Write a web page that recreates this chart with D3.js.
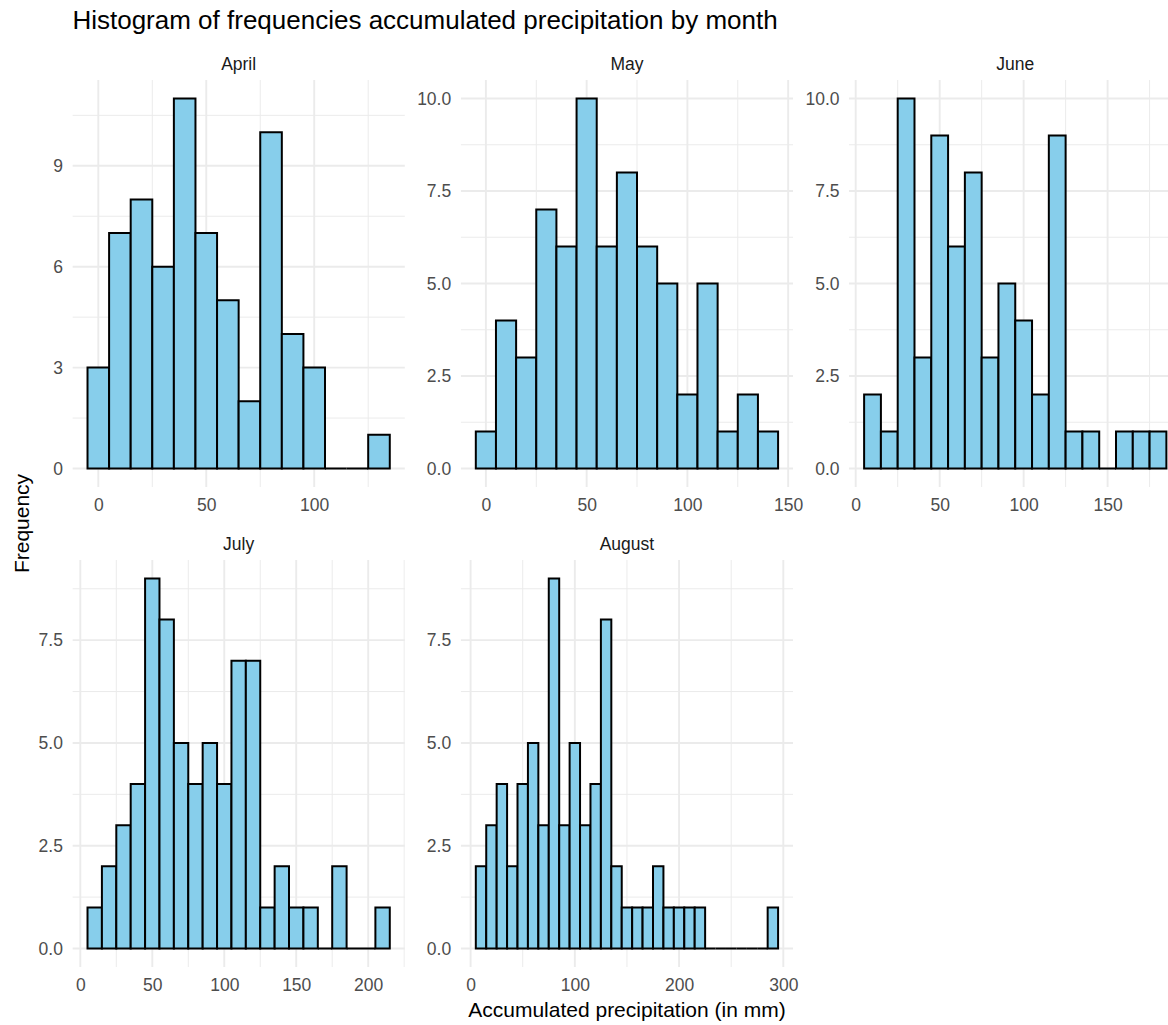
<!DOCTYPE html>
<html lang="en">

<head>
  <meta charset="utf-8">
  <title>Histogram of frequencies</title>
  <script src="https://d3js.org/d3.v7.min.js" charset="utf-8"></script>
  <style type="text/css">
    body {
      margin: 0;
      background: #fff;
    }

    svg {
      display: block;
      font-family: "Liberation Sans", Arial, sans-serif;
    }

    .grid-major {
      stroke: #ebebeb;
      stroke-width: 1.9;
    }

    .grid-minor {
      stroke: #ebebeb;
      stroke-width: 1;
    }

    .bar {
      fill: #87ceeb;
      stroke: #000;
      stroke-width: 2;
    }
  </style>
</head>

<body>
  <script type="text/javascript">
    // histogram counts, bin width 10, bins centred on multiples of 10
    var months = ["April", "May", "June", "July", "August"];
    var binWidth = 10;
    var firstBin = [0, 0, 10, 10, 10];

    var aprilCounts = [3, 7, 8, 6, 11, 7, 5, 2, 10, 4, 3, 0, 0, 1];
    var mayCounts = [1, 4, 3, 7, 6, 10, 6, 8, 6, 5, 2, 5, 1, 2, 1];
    var juneCounts = [2, 1, 10, 3, 9, 6, 8, 3, 5, 4, 2, 9, 1, 1, 0, 1, 1, 1];
    var julyCounts = [1, 2, 3, 4, 9, 8, 5, 4, 5, 4, 7, 7, 1, 2, 1, 1, 0, 2, 0, 0, 1];
    var augustCounts = [2, 3, 4, 2, 4, 5, 3, 9, 3, 5, 3, 4, 8, 2, 1, 1, 1, 2, 1, 1, 1, 1, 0, 0, 0, 0, 0, 0, 1];
    var counts = [aprilCounts, mayCounts, juneCounts, julyCounts, augustCounts];

    var xTicks = [
      [0, 50, 100],
      [0, 50, 100, 150],
      [0, 50, 100, 150],
      [0, 50, 100, 150, 200],
      [0, 100, 200, 300]
    ];
    var yTicks = [
      [0, 3, 6, 9],
      [0, 2.5, 5, 7.5, 10],
      [0, 2.5, 5, 7.5, 10],
      [0, 2.5, 5, 7.5],
      [0, 2.5, 5, 7.5]
    ];
    var yFormats = ["d", ".1f", ".1f", ".1f", ".1f"];

    var width = 1168,
      height = 1025,
      panelW = 332.5,
      panelH = 407,
      colStep = 388.3,
      left = 72.4,
      rowTops = [80, 560],
      tickFont = 17.5;

    var svg = d3.select("body")
      .append("svg")
      .attr("width", width)
      .attr("height", height);

    svg.append("rect")
      .attr("width", width)
      .attr("height", height)
      .attr("fill", "#fff");

    // ggplot-style minor breaks: midpoints between majors, extended one step
    function minorBreaks(major, domain) {
      var b = major.slice();
      var step = b[1] - b[0];
      if (domain[0] < b[0]) b.unshift(b[0] - step);
      if (domain[1] > b[b.length - 1]) b.push(b[b.length - 1] + step);
      var out = [];
      for (var i = 0; i < b.length - 1; i++) out.push((b[i] + b[i + 1]) / 2);
      return out.filter(function (v) {
        return v >= domain[0] && v <= domain[1];
      });
    }

    months.forEach(function (month, i) {
      var col = i % 3,
        row = Math.floor(i / 3);

      var data = counts[i].map(function (c, j) {
        var mid = firstBin[i] + j * binWidth;
        return {
          x0: mid - binWidth / 2,
          x1: mid + binWidth / 2,
          count: c
        };
      });

      var xMin = data[0].x0,
        xMax = data[data.length - 1].x1,
        xPad = (xMax - xMin) * 0.05,
        yMax = d3.max(data, function (d) {
          return d.count;
        });

      var x = d3.scaleLinear()
        .domain([xMin - xPad, xMax + xPad])
        .range([0, panelW]);

      var y = d3.scaleLinear()
        .domain([-yMax * 0.05, yMax * 1.05])
        .range([panelH, 0]);

      var g = svg.append("g")
        .attr("transform", "translate(" + (left + col * colStep) + "," + rowTops[row] + ")");

      g.append("clipPath")
        .attr("id", "clip" + i)
        .append("rect")
        .attr("width", panelW)
        .attr("height", panelH);

      var plot = g.append("g")
        .attr("clip-path", "url(#clip" + i + ")");

      // grid
      plot.selectAll(".gx-minor")
        .data(minorBreaks(xTicks[i], x.domain()))
        .enter()
        .append("line")
        .attr("class", "grid-minor")
        .attr("x1", x).attr("x2", x)
        .attr("y1", 0).attr("y2", panelH);

      plot.selectAll(".gy-minor")
        .data(minorBreaks(yTicks[i], y.domain()))
        .enter()
        .append("line")
        .attr("class", "grid-minor")
        .attr("y1", y).attr("y2", y)
        .attr("x1", 0).attr("x2", panelW);

      plot.selectAll(".gx-major")
        .data(xTicks[i])
        .enter()
        .append("line")
        .attr("class", "grid-major")
        .attr("x1", x).attr("x2", x)
        .attr("y1", 0).attr("y2", panelH);

      plot.selectAll(".gy-major")
        .data(yTicks[i])
        .enter()
        .append("line")
        .attr("class", "grid-major")
        .attr("y1", y).attr("y2", y)
        .attr("x1", 0).attr("x2", panelW);

      // bars (paths so empty bins still show a flat outline)
      plot.selectAll(".bar")
        .data(data)
        .enter()
        .append("path")
        .attr("class", "bar")
        .attr("d", function (d) {
          var p = d3.path();
          p.rect(x(d.x0), y(d.count), x(d.x1) - x(d.x0), y(0) - y(d.count));
          return p.toString();
        });

      // axes, ticks hidden as in theme_minimal
      var xAxis = g.append("g")
        .attr("transform", "translate(0," + panelH + ")")
        .call(d3.axisBottom(x).tickValues(xTicks[i]).tickSize(0).tickPadding(12));

      var yAxis = g.append("g")
        .call(d3.axisLeft(y).tickValues(yTicks[i]).tickSize(0).tickPadding(9.5)
          .tickFormat(d3.format(yFormats[i])));

      [xAxis, yAxis].forEach(function (ax) {
        ax.select(".domain").remove();
        ax.attr("font-family", null).attr("font-size", null);
        ax.selectAll("text")
          .attr("fill", "#4d4d4d")
          .attr("font-size", tickFont + "px");
      });

      // facet strip
      g.append("text")
        .attr("x", panelW / 2)
        .attr("y", -10)
        .attr("text-anchor", "middle")
        .attr("fill", "#1a1a1a")
        .attr("font-size", tickFont + "px")
        .text(month);
    });

    svg.append("text")
      .attr("x", left)
      .attr("y", 29)
      .attr("font-size", "26px")
      .attr("fill", "#000")
      .text("Histogram of frequencies accumulated precipitation by month");

    svg.append("text")
      .attr("x", left + (2 * colStep + panelW) / 2)
      .attr("y", 1017)
      .attr("text-anchor", "middle")
      .attr("font-size", "21px")
      .attr("fill", "#000")
      .text("Accumulated precipitation (in mm)");

    svg.append("text")
      .attr("transform", "translate(28.5," + (rowTops[0] + (rowTops[1] + panelH - rowTops[0]) / 2) + ") rotate(-90)")
      .attr("text-anchor", "middle")
      .attr("font-size", "21px")
      .attr("fill", "#000")
      .text("Frequency");
  </script>
</body>

</html>
